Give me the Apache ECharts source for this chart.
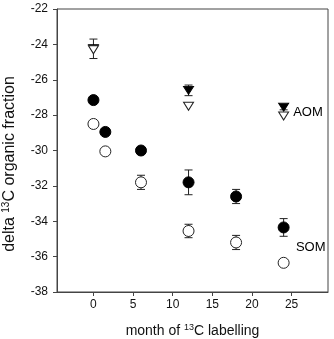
<!DOCTYPE html>
<html>
<head>
<meta charset="utf-8">
<script src="https://cdn.jsdelivr.net/npm/echarts@6/dist/echarts.min.js"></script>
<style>
  html, body { margin: 0; padding: 0; background: #fff; }
  #chart { width: 334px; height: 339px; }
</style>
</head>
<body>
<div id="chart"></div>
<script>
/* x 刻度 */
var monthTicks = [0, 5, 10, 15, 20, 25];

/* SOM: [month, value, error] */
var somFilled = [[0, -27.15, 0], [1.5, -28.95, 0], [6, -30.0, 0], [12, -31.8, 0.7], [18, -32.6, 0.4], [24, -34.35, 0.5]];
var somOpen = [[0, -28.5, 0], [1.5, -30.05, 0], [6, -31.8, 0.4], [12, -34.55, 0.38], [18, -35.2, 0.4], [24, -36.35, 0.15]];

/* AOM: [month, value, error] */
var aomFilled = [[0, -24.25, 0.55], [12, -26.6, 0.3], [24, -27.55, 0.15]];
var aomOpen = [[0, -24.3, 0], [12, -27.5, 0], [24, -28.05, 0]];

/* 标注 */
var tags = [[25.2, -27.84, 'AOM'], [25.55, -35.46, 'SOM']];

var font = 'Liberation Sans, Arial, sans-serif';

function pts(arr) {
  var out = [];
  for (var i in arr) {
    out[i] = [arr[i][0], arr[i][1]];
  }
  return out;
}

function errs(arr) {
  var out = [];
  for (var i in arr) {
    if (arr[i][2] > 0) {
      out.push([arr[i][0], arr[i][1] - arr[i][2], arr[i][1] + arr[i][2]]);
    }
  }
  return out;
}

function errorBar(data) {
  return {
    type: 'custom',
    data: data,
    silent: true,
    z: 1,
    renderItem: function (params, api) {
      var lo = api.coord([api.value(0), api.value(1)]);
      var hi = api.coord([api.value(0), api.value(2)]);
      var w = 4;
      var st = { stroke: '#222', lineWidth: 1 };
      return {
        type: 'group',
        children: [
          { type: 'line', shape: { x1: lo[0], y1: lo[1], x2: hi[0], y2: hi[1] }, style: st },
          { type: 'line', shape: { x1: lo[0] - w, y1: lo[1], x2: lo[0] + w, y2: lo[1] }, style: st },
          { type: 'line', shape: { x1: hi[0] - w, y1: hi[1], x2: hi[0] + w, y2: hi[1] }, style: st }
        ]
      };
    }
  };
}

var myChart = echarts.init(document.getElementById('chart'));

var option = {
  animation: false,
  grid: {
    left: 57,
    right: 6,
    top: 9,
    bottom: 47,
    containLabel: false,
    outerBoundsMode: 'none',
    show: true,
    borderColor: '#444',
    borderWidth: 1
  },
  xAxis: {
    type: 'value',
    min: -4.6,
    max: 29.6,
    name: '{n|month of }{s|13}{n|C labelling}',
    nameLocation: 'middle',
    nameGap: 31,
    nameTextStyle: {
      rich: {
        n: { fontSize: 14, color: '#111', fontFamily: font },
        s: { fontSize: 9, color: '#111', fontFamily: font, padding: [0, 0, 7, 0] }
      }
    },
    splitLine: { show: false },
    axisLine: { onZero: false, lineStyle: { color: '#444' } },
    axisTick: { show: true, length: 4, customValues: monthTicks, lineStyle: { color: '#444' } },
    axisLabel: { customValues: monthTicks, margin: 7, fontSize: 12, color: '#111', fontFamily: font }
  },
  yAxis: {
    type: 'value',
    min: -38,
    max: -22,
    interval: 2,
    name: '{n|delta }{s|13}{n|C organic fraction}',
    nameLocation: 'middle',
    nameRotate: 90,
    nameGap: 38,
    nameTextStyle: {
      padding: [0, 27, 0, 0],
      rich: {
        n: { fontSize: 16, color: '#111', fontFamily: font },
        s: { fontSize: 10, color: '#111', fontFamily: font, padding: [0, 0, 8, 0] }
      }
    },
    splitLine: { show: false },
    axisLine: { show: true, onZero: false, lineStyle: { color: '#444' } },
    axisTick: { show: true, length: 4, lineStyle: { color: '#444' } },
    axisLabel: { margin: 9, fontSize: 12, color: '#111', fontFamily: font }
  },
  series: [
    errorBar(errs(somFilled)),
    errorBar(errs(somOpen)),
    errorBar(errs(aomFilled)),
    errorBar(errs(aomOpen)),
    {
      name: 'SOM open',
      type: 'scatter',
      data: pts(somOpen),
      symbol: 'circle',
      symbolSize: 11,
      z: 3,
      itemStyle: { color: '#fff', borderColor: '#222', borderWidth: 1, opacity: 1 }
    },
    {
      name: 'SOM filled',
      type: 'scatter',
      data: pts(somFilled),
      symbol: 'circle',
      symbolSize: 11,
      z: 3,
      itemStyle: { color: '#000', borderColor: '#000', borderWidth: 1, opacity: 1 }
    },
    {
      name: 'AOM filled',
      type: 'scatter',
      data: pts(aomFilled),
      symbol: 'triangle',
      symbolRotate: 180,
      symbolSize: [10, 8],
      z: 3,
      itemStyle: { color: '#000', borderColor: '#000', borderWidth: 1, opacity: 1 }
    },
    {
      name: 'AOM open',
      type: 'scatter',
      data: pts(aomOpen),
      symbol: 'triangle',
      symbolRotate: 180,
      symbolSize: [10, 8],
      z: 4,
      itemStyle: { color: '#fff', borderColor: '#222', borderWidth: 1, opacity: 1 }
    },
    {
      name: 'tags',
      type: 'scatter',
      data: tags,
      symbolSize: 0,
      silent: true,
      itemStyle: { opacity: 1 },
      label: {
        show: true,
        position: 'right',
        distance: 0,
        formatter: function (p) { return p.data[2]; },
        fontSize: 13,
        color: '#000',
        opacity: 1,
        fontFamily: font
      }
    }
  ]
};

myChart.setOption(option);
</script>
</body>
</html>
